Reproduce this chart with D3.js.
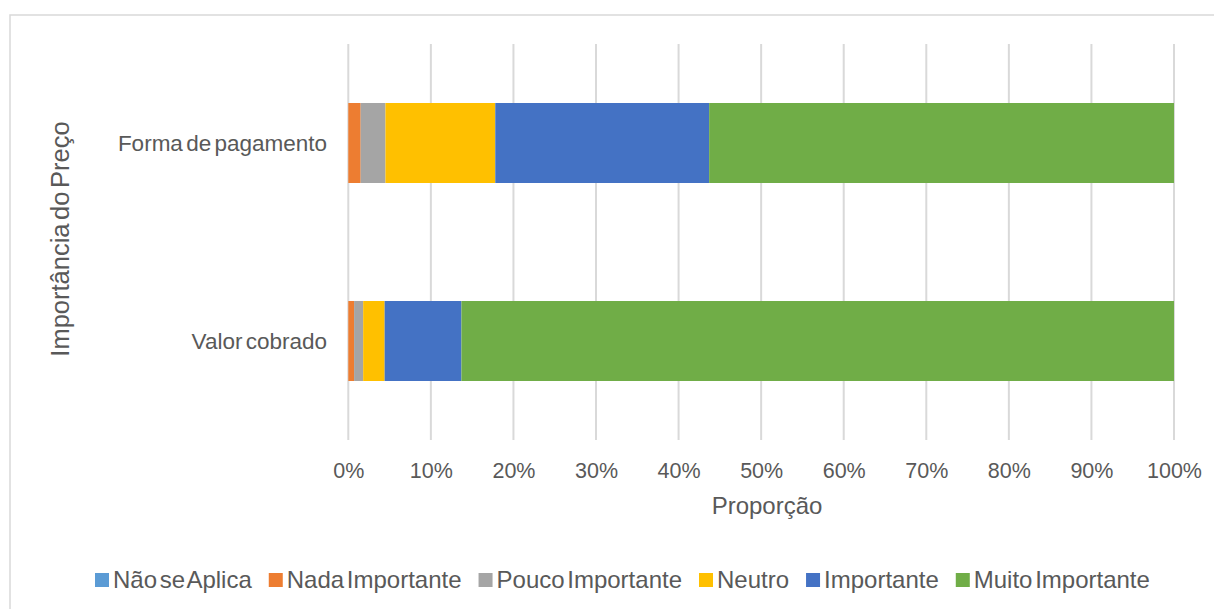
<!DOCTYPE html>
<html>
<head>
<meta charset="utf-8">
<script src="https://cdn.jsdelivr.net/npm/d3@7"></script>
<style>
  html, body { margin: 0; padding: 0; background: #fff; }
  svg { display: block; font-family: "Liberation Sans", Arial, sans-serif; }
</style>
</head>
<body>
<svg id="chart" width="1214" height="609"></svg>
<script>
// ---- data ----
const categories = ["Forma de pagamento", "Valor cobrado"];
const seriesNames = ["Não se Aplica", "Nada Importante", "Pouco Importante", "Neutro", "Importante", "Muito Importante"];
const seriesColors = ["#5B9BD5", "#ED7D31", "#A5A5A5", "#FFC000", "#4472C4", "#70AD47"];
const naoSeAplica     = [0.0, 0.0];
const nadaImportante  = [1.5, 0.7];
const poucoImportante = [3.0, 1.1];
const neutro          = [13.3, 2.6];
const importante      = [25.9, 9.3];
const muitoImportante = [56.3, 86.3];
const tickValues = [0, 10, 20, 30, 40, 50, 60, 70, 80, 90, 100];
const tickLabels = ["0%", "10%", "20%", "30%", "40%", "50%", "60%", "70%", "80%", "90%", "100%"];
const xTitle = "Proporção";
const yTitle = "Importância do Preço";

const seriesValues = [naoSeAplica, nadaImportante, poucoImportante, neutro, importante, muitoImportante];
const rows = categories.map((c, i) => {
  const r = { cat: c };
  seriesNames.forEach((s, j) => r[s] = seriesValues[j][i]);
  return r;
});

const svg = d3.select("#chart");
const textColor = "#595959";
const gridColor = "#D9D9D9";

// chart border
svg.append("rect").attr("x", 10).attr("y", 15).attr("width", 1240).attr("height", 640)
  .attr("fill", "none").attr("stroke", gridColor).attr("stroke-width", 1.5);

const plot = { left: 348.3, right: 1174, top: 44, bottom: 440 };

const x = d3.scaleLinear().domain([0, 100]).range([plot.left, plot.right]);
const y = d3.scaleBand().domain(categories).range([plot.top, plot.bottom])
  .paddingInner(0.596).paddingOuter(0.298);

// gridlines
svg.append("g").selectAll("line").data(tickValues).join("line")
  .attr("x1", d => x(d)).attr("x2", d => x(d))
  .attr("y1", plot.top).attr("y2", plot.bottom)
  .attr("stroke", gridColor).attr("stroke-width", 2);

// stacked bars
const stack = d3.stack().keys(seriesNames)(rows);
svg.append("g").selectAll("g").data(stack).join("g")
  .attr("fill", (d, i) => seriesColors[i])
  .selectAll("rect").data(d => d).join("rect")
  .attr("x", d => x(d[0]))
  .attr("width", d => Math.max(0, x(d[1]) - x(d[0])))
  .attr("y", d => y(d.data.cat))
  .attr("height", y.bandwidth());

// x axis tick labels
const xAxis = d3.axisBottom(x).tickValues(tickValues)
  .tickFormat((d, i) => tickLabels[i]).tickSize(0).tickPadding(0);
const gx = svg.append("g").attr("transform", `translate(0,${plot.bottom})`).call(xAxis);
gx.select(".domain").remove();
gx.selectAll("text").attr("fill", textColor).attr("font-size", 21.5)
  .attr("font-family", "Liberation Sans, Arial, sans-serif")
  .attr("dy", null).attr("y", 38);

// y axis category labels
const yAxis = d3.axisLeft(y).tickSize(0).tickPadding(0);
const gy = svg.append("g").attr("transform", `translate(327,0)`).call(yAxis);
gy.select(".domain").remove();
gy.selectAll("text").attr("fill", textColor).attr("font-size", 22.5)
  .attr("font-family", "Liberation Sans, Arial, sans-serif")
  .attr("word-spacing", -3).attr("dy", "0.36em");

// axis titles
svg.append("text").attr("x", 767).attr("y", 514).attr("text-anchor", "middle")
  .attr("fill", textColor).attr("font-size", 24).text(xTitle);
svg.append("text").attr("transform", "translate(69,239) rotate(-90)")
  .attr("text-anchor", "middle").attr("fill", textColor).attr("font-size", 25.5)
  .attr("word-spacing", -3.5).text(yTitle);

// legend
const legend = svg.append("g");
let lx = 95;
seriesNames.forEach((name, i) => {
  legend.append("rect").attr("x", lx).attr("y", 573).attr("width", 14).attr("height", 14)
    .attr("fill", seriesColors[i]);
  const t = legend.append("text").attr("x", lx + 18).attr("y", 588)
    .attr("fill", textColor).attr("font-size", 24).attr("word-spacing", -4).text(name);
  const w = t.node().getComputedTextLength();
  lx = lx + 18 + w + 17;
});
</script>
</body>
</html>
